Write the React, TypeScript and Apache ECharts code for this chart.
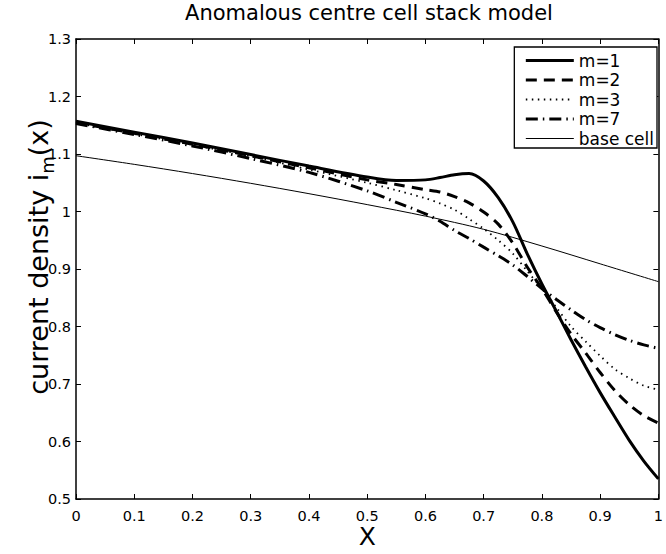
import React, { useEffect, useRef } from "react";
import * as echarts from "echarts";

const FONT = "DejaVu Sans";

const titleText = "Anomalous centre cell stack model";
const xName = "X";

// x positions of the sampled curve points
const xs = [0, 0.1, 0.2, 0.3, 0.4, 0.5, 0.55, 0.6, 0.625, 0.65, 0.675, 0.7, 0.725, 0.75, 0.775, 0.8, 0.825, 0.85, 0.875, 0.9, 0.925, 0.95, 0.975, 1.0];

const m1 = [1.157, 1.138, 1.119, 1.099, 1.079, 1.060, 1.054, 1.055, 1.059, 1.064, 1.066, 1.053, 1.024, 0.982, 0.926, 0.874, 0.826, 0.777, 0.730, 0.685, 0.643, 0.602, 0.566, 0.535];
const m2 = [1.155, 1.136, 1.117, 1.097, 1.076, 1.055, 1.047, 1.038, 1.034, 1.026, 1.015, 0.999, 0.978, 0.945, 0.903, 0.866, 0.825, 0.787, 0.754, 0.720, 0.689, 0.664, 0.645, 0.632];
const m3 = [1.154, 1.135, 1.116, 1.096, 1.073, 1.050, 1.037, 1.023, 1.014, 1.003, 0.987, 0.970, 0.950, 0.927, 0.896, 0.866, 0.833, 0.800, 0.774, 0.749, 0.726, 0.710, 0.697, 0.690];
const m7 = [1.153, 1.134, 1.114, 1.092, 1.068, 1.036, 1.016, 0.996, 0.983, 0.967, 0.953, 0.938, 0.923, 0.907, 0.887, 0.866, 0.847, 0.829, 0.812, 0.798, 0.786, 0.776, 0.768, 0.762];

const baseX = [0, 0.1, 0.2, 0.3, 0.4, 0.5, 0.6, 0.7, 0.8, 0.9, 1.0];
const baseCell = [1.097, 1.082, 1.066, 1.049, 1.031, 1.012, 0.992, 0.969, 0.940, 0.909, 0.878];

const seriesNames = ["m=1", "m=2", "m=3", "m=7", "base cell"];
const lineWidths = [3, 3, 1.8, 3, 1];
const lineTypes: any[] = ["solid", [11, 7], [1.5, 4.5], [12, 5, 1.5, 5], "solid"];

export default function App() {
  const ref = useRef<HTMLDivElement>(null);

  useEffect(() => {
    if (!ref.current) return;
    const chart = echarts.init(ref.current, undefined, { renderer: "svg" });

    const pairs = (x: number[], y: number[]) => x.map((v, i) => [v, y[i]]);

    const axisLine = { show: true, onZero: false, lineStyle: { color: "#000", width: 1.5 } };
    const axisTick = { show: true, inside: true, length: 5, lineStyle: { color: "#000", width: 1 } };

    const mkLine = (i: number, data: number[][]) => ({
      name: seriesNames[i],
      type: "line",
      data,
      showSymbol: false,
      symbol: "none",
      smooth: 0.3,
      lineStyle: { color: "#000", width: lineWidths[i], type: lineTypes[i] },
      itemStyle: { color: "#000" },
      z: 3,
    });

    chart.setOption({
      animation: false,
      backgroundColor: "#fff",
      textStyle: { fontFamily: FONT },
      title: {
        text: titleText,
        left: 369,
        top: 2,
        padding: 0,
        textAlign: "center",
        textStyle: { fontFamily: FONT, fontSize: 21, fontWeight: "normal", color: "#000" },
      },
      grid: { left: 76, right: 3, top: 39, bottom: 52, containLabel: false },
      legend: {
        orient: "vertical",
        right: 9,
        top: 47,
        itemWidth: 48,
        itemHeight: 14,
        itemGap: 2.5,
        padding: [5, 3, 1, 10],
        borderColor: "#000",
        borderWidth: 1.3,
        borderRadius: 0,
        backgroundColor: "#fff",
        itemStyle: { opacity: 0 },
        textStyle: { fontFamily: FONT, fontSize: 17, lineHeight: 17, color: "#000" },
        data: seriesNames.map((n, i) => ({
          name: n,
          itemStyle: { opacity: 0 },
          lineStyle: { color: "#000", width: lineWidths[i], type: lineTypes[i] },
        })),
      },
      xAxis: [
        {
          type: "value",
          min: 0,
          max: 1,
          interval: 0.1,
          position: "bottom",
          axisLine,
          axisTick,
          splitLine: { show: false },
          axisLabel: { color: "#000", fontSize: 14.5, fontFamily: FONT, margin: 9 },
          name: xName,
          nameLocation: "middle",
          nameGap: 25,
          nameMoveOverlap: false,
          nameTextStyle: { color: "#000", fontSize: 25, fontFamily: FONT },
        },
        {
          type: "value",
          min: 0,
          max: 1,
          interval: 0.1,
          position: "top",
          axisLine,
          axisTick,
          splitLine: { show: false },
          axisLabel: { show: false },
        },
      ],
      yAxis: [
        {
          type: "value",
          min: 0.5,
          max: 1.3,
          interval: 0.1,
          position: "left",
          axisLine,
          axisTick,
          splitLine: { show: false },
          axisLabel: { color: "#000", fontSize: 14.5, fontFamily: FONT, margin: 5 },
          name: "{a|current density i}{s|m}{a|(x)}",
          nameLocation: "middle",
          nameGap: 19.5,
          nameMoveOverlap: false,
          nameTextStyle: {
            color: "#000",
            fontFamily: FONT,
            padding: [0, 0, 0, 24],
            rich: {
              a: { fontSize: 27, fontFamily: FONT, color: "#000" },
              s: { fontSize: 18, fontFamily: FONT, color: "#000", padding: [19, 0, 0, 0] },
            },
          },
        },
        {
          type: "value",
          min: 0.5,
          max: 1.3,
          interval: 0.1,
          position: "right",
          axisLine,
          axisTick,
          splitLine: { show: false },
          axisLabel: { show: false },
        },
      ],
      series: [
        mkLine(0, pairs(xs, m1)),
        mkLine(1, pairs(xs, m2)),
        mkLine(2, pairs(xs, m3)),
        mkLine(3, pairs(xs, m7)),
        mkLine(4, pairs(baseX, baseCell)),
      ],
    });

    return () => chart.dispose();
  }, []);

  return (
    <div
      ref={ref}
      style={{ position: "absolute", left: 0, top: 0, width: 666, height: 554, background: "#fff" }}
    />
  );
}
